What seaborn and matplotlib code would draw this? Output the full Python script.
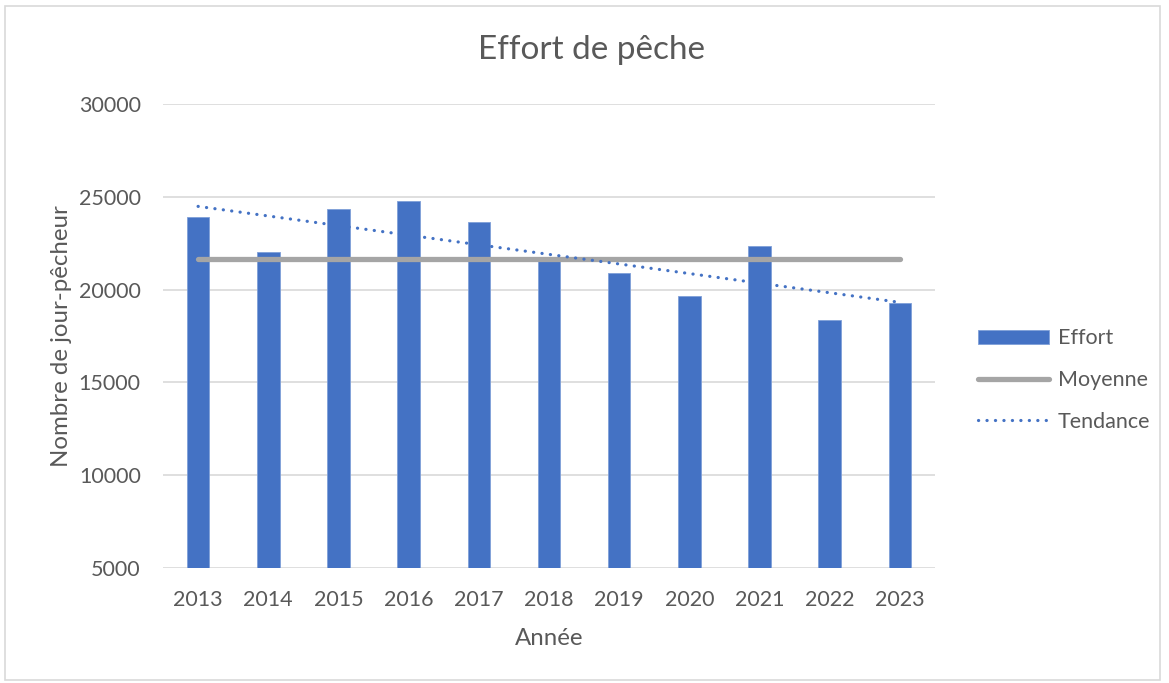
import numpy as np
import pandas as pd
import matplotlib
matplotlib.use("Agg")
import matplotlib.pyplot as plt
import seaborn as sns
from matplotlib.patches import Rectangle

# ================= Data =================
annees = ["2013", "2014", "2015", "2016", "2017", "2018",
          "2019", "2020", "2021", "2022", "2023"]
effort = [23930, 22040, 24330, 24760, 23640, 21650,
          20890, 19650, 22350, 18360, 19280]
moyenne = 21650  # mean line as shown on the chart

df = pd.DataFrame({"Année": annees, "Effort": effort})

# ================= Style =================
sns.set_theme(style="white")
plt.rcParams["font.family"] = ["Lato", "DejaVu Sans"]
gris_texte = "#595959"
bleu = "#4472C4"

fig = plt.figure(figsize=(11.69, 6.83), dpi=100)
ax = fig.add_axes([163 / 1169, 1 - 568 / 683, (935 - 163) / 1169, (568 - 104) / 683])

# bars
sns.barplot(data=df, x="Année", y="Effort", color=bleu, width=0.32,
            saturation=1, edgecolor="#7F9FD8", linewidth=0.6,
            label="Effort", ax=ax, zorder=2)

pos = np.arange(len(annees))

# mean line
ax.plot(pos, [moyenne] * len(pos), color="#A5A5A5", lw=3.8,
        solid_capstyle="round", label="Moyenne", zorder=3)

# linear trend
coef = np.polyfit(pos, effort, 1)
ax.plot(pos, np.polyval(coef, pos), color=bleu, lw=2.3,
        linestyle=(0, (0.05, 2.6)), dash_capstyle="round",
        label="Tendance", zorder=4)

# ================= Axes =================
ax.set_ylim(5000, 30000)
ax.set_xlim(-0.5, len(annees) - 0.5)
ax.set_yticks(np.arange(5000, 30001, 5000))
ax.yaxis.grid(True, color="#D9D9D9", lw=1.2, zorder=0)
ax.set_axisbelow(True)
for s in ax.spines.values():
    s.set_visible(False)
ax.tick_params(axis="both", length=0, labelsize=15.5, labelcolor=gris_texte)
ax.tick_params(axis="x", pad=16)
ax.tick_params(axis="y", pad=16)

ax.set_xlabel("Année", fontsize=17.3, color=gris_texte, labelpad=13)
ax.set_ylabel("Nombre de jour-pêcheur", fontsize=17.3, color=gris_texte, labelpad=5)
fig.text(591 / 1169, 1 - 50 / 683, "Effort de pêche", ha="center", va="center",
         fontsize=24, color=gris_texte)

handles, labels = ax.get_legend_handles_labels()
ordre = [labels.index(n) for n in ["Effort", "Moyenne", "Tendance"]]
leg = ax.legend([handles[i] for i in ordre], [labels[i] for i in ordre],
                loc="center left", bbox_to_anchor=(959 / 1169, 1 - 380 / 683),
                bbox_transform=fig.transFigure, frameon=False, fontsize=15.5,
                handlelength=3.3, handleheight=0.65, labelspacing=1.0,
                handletextpad=0.4)
for t in leg.get_texts():
    t.set_color(gris_texte)

# light frame around the chart
fig.patches.append(Rectangle((5 / 1169, 3 / 683), 1155 / 1169, 674 / 683,
                             transform=fig.transFigure, fill=False,
                             edgecolor="#D9D9D9", lw=1.2))

fig.savefig("out.png", dpi=100)
